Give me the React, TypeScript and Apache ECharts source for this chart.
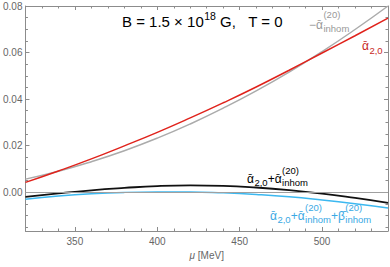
import React, { useEffect, useRef } from "react";
import * as echarts from "echarts";

// ---- data ----
const mu = [320, 340, 360, 380, 400, 420, 440, 460, 480, 500, 520, 540];
const alpha20 = [0.0042, 0.0091, 0.0143, 0.0199, 0.0257, 0.0319, 0.0384, 0.0452, 0.0524, 0.0598, 0.0672, 0.0748];
const negAlphaInhom = [0.0056, 0.009, 0.0131, 0.0178, 0.0232, 0.0293, 0.0361, 0.0435, 0.0516, 0.0604, 0.0699, 0.08];
const alphaPlusInhom = [-0.002, -0.0005, 0.0008, 0.0018, 0.0026, 0.0029, 0.0027, 0.002, 0.0009, -0.0006, -0.0025, -0.0046];
const alphaPlusInhomBeta = [-0.0031, -0.0017, -0.0007, -0.0001, 0.0001, 0.0001, -0.0003, -0.001, -0.002, -0.0034, -0.005, -0.0068];

const xMajorTicks = [350, 400, 450, 500];
const xMinorTicks = [330, 340, 360, 370, 380, 390, 410, 420, 430, 440, 460, 470, 480, 490, 510, 520, 530];
const yMajorTicks = [0, 0.02, 0.04, 0.06, 0.08];
const yMinorTicks = [-0.015, -0.01, -0.005, 0.005, 0.01, 0.015, 0.025, 0.03, 0.035, 0.045, 0.05, 0.055, 0.065, 0.07, 0.075];

const FONT = '"Liberation Sans", Arial, "DejaVu Sans", sans-serif';
const FRAME = "#8c8c8c";
const TICKLABEL = "#666";

type Tok = { t?: string; sub?: string; sup?: string };

let measureCtx: CanvasRenderingContext2D | null = null;
function textWidth(s: string, size: number): number {
  if (!measureCtx) measureCtx = document.createElement("canvas").getContext("2d");
  if (!measureCtx) return s.length * size * 0.55;
  measureCtx.font = `${size}px ${FONT}`;
  return measureCtx.measureText(s).width;
}

function txt(x: number, y: number, s: string, size: number, color: string) {
  return {
    type: "text",
    x,
    y,
    silent: true,
    style: {
      text: s,
      fill: color,
      font: `${size}px ${FONT}`,
      align: "left",
      verticalAlign: "middle",
      textAlign: "left",
      textVerticalAlign: "middle",
    },
  };
}

function buildLabel(
  x: number,
  y: number,
  toks: Tok[],
  color: string,
  main: number,
  script: number,
  supDy: number,
  subDy: number
) {
  const children: any[] = [];
  let cx = 0;
  for (const tk of toks) {
    if (tk.t !== undefined) {
      children.push(txt(cx, 0, tk.t, main, color));
      cx += textWidth(tk.t, main);
    } else {
      let ww = 0;
      if (tk.sup) {
        children.push(txt(cx + 0.5, supDy, tk.sup, script, color));
        ww = Math.max(ww, textWidth(tk.sup, script));
      }
      if (tk.sub) {
        children.push(txt(cx + 0.5, subDy, tk.sub, script, color));
        ww = Math.max(ww, textWidth(tk.sub, script));
      }
      cx += ww + 0.5;
    }
  }
  return { type: "group", x, y, silent: true, children };
}

const A = "ᾱ";
const B = "β\u0304";

export default function App() {
  const ref = useRef<HTMLDivElement>(null);
  useEffect(() => {
    if (!ref.current) return;
    const chart = echarts.init(ref.current, undefined, { renderer: "svg" });
    const toPairs = (ys: number[]) => mu.map((m, i) => [m, ys[i]]);
    const yMin = -0.0167;
    const yMax = 0.08;

    const xAxisBase = (position: string, ticks: number[], len: number, labels: boolean, line: boolean) => ({
      type: "value",
      min: 320,
      max: 540,
      position,
      gridIndex: 0,
      axisLine: { show: line, onZero: false, lineStyle: { color: FRAME, width: 1 } },
      axisTick: { show: true, inside: true, length: len, customValues: ticks, lineStyle: { color: FRAME, width: 1 } },
      axisLabel: labels
        ? { show: true, customValues: ticks, color: TICKLABEL, fontSize: 10, fontFamily: FONT, margin: 5 }
        : { show: false },
      splitLine: { show: false },
      minorTick: { show: false },
    });
    const yAxisBase = (position: string, ticks: number[], len: number, labels: boolean, line: boolean) => ({
      type: "value",
      min: yMin,
      max: yMax,
      position,
      gridIndex: 0,
      axisLine: { show: line, onZero: false, lineStyle: { color: FRAME, width: 1 } },
      axisTick: { show: true, inside: true, length: len, customValues: ticks, lineStyle: { color: FRAME, width: 1 } },
      axisLabel: labels
        ? {
            show: true,
            customValues: ticks,
            color: TICKLABEL,
            fontSize: 10,
            fontFamily: FONT,
            margin: 3,
            formatter: (v: number) => v.toFixed(2),
          }
        : { show: false },
      splitLine: { show: false },
      minorTick: { show: false },
    });

    const xMain: any = xAxisBase("bottom", xMajorTicks, 4, true, true);
    xMain.name = "{i|μ} [MeV]";
    xMain.nameLocation = "middle";
    xMain.nameGap = 17;
    xMain.nameTextStyle = {
      color: TICKLABEL,
      fontSize: 10,
      fontFamily: FONT,
      rich: { i: { fontStyle: "italic", fontSize: 10, color: TICKLABEL, fontFamily: FONT } },
    };

    const option: any = {
      animation: false,
      backgroundColor: "#fff",
      grid: { left: 24, right: 2, top: 6, bottom: 36, containLabel: false },
      xAxis: [
        xMain,
        xAxisBase("bottom", xMinorTicks, 2.5, false, false),
        xAxisBase("top", xMajorTicks, 4, false, true),
        xAxisBase("top", xMinorTicks, 2.5, false, false),
      ],
      yAxis: [
        yAxisBase("left", yMajorTicks, 4, true, true),
        yAxisBase("left", yMinorTicks, 2.5, false, false),
        yAxisBase("right", yMajorTicks, 4, false, true),
        yAxisBase("right", yMinorTicks, 2.5, false, false),
      ],
      series: [
        {
          type: "line",
          name: "-alpha inhom",
          xAxisIndex: 0,
          yAxisIndex: 0,
          data: toPairs(negAlphaInhom),
          smooth: true,
          showSymbol: false,
          lineStyle: { color: "#ababab", width: 1.5 },
          z: 2,
          markLine: {
            silent: true,
            symbol: "none",
            label: { show: false },
            lineStyle: { color: "#a0a0a0", width: 1, type: "solid" },
            data: [{ yAxis: 0 }],
          },
        },
        {
          type: "line",
          name: "alpha 2,0",
          xAxisIndex: 0,
          yAxisIndex: 0,
          data: toPairs(alpha20),
          smooth: true,
          showSymbol: false,
          lineStyle: { color: "#e0231c", width: 1.5 },
          z: 3,
        },
        {
          type: "line",
          name: "alpha + beta",
          xAxisIndex: 0,
          yAxisIndex: 0,
          data: toPairs(alphaPlusInhomBeta),
          smooth: true,
          showSymbol: false,
          lineStyle: { color: "#3cb8f0", width: 1.5 },
          z: 3,
        },
        {
          type: "line",
          name: "alpha + inhom",
          xAxisIndex: 0,
          yAxisIndex: 0,
          data: toPairs(alphaPlusInhom),
          smooth: true,
          showSymbol: false,
          lineStyle: { color: "#111", width: 1.8 },
          z: 4,
        },
      ],
      graphic: [
        buildLabel(122, 21.5, [{ t: "B = 1.5 × 10" }, { sup: "18" }, { t: " G,   T = 0" }], "#000", 15, 10.5, -6, 6),
        buildLabel(309, 25, [{ t: "−" + A }, { sup: "(20)", sub: "inhom" }], "#999", 12, 9.5, -11, 3),
        buildLabel(362, 46, [{ t: A }, { sub: "2,0" }], "#c8281e", 12, 9.5, 4, 4),
        buildLabel(
          247,
          179,
          [{ t: A }, { sub: "2,0" }, { t: "+" + A }, { sup: "(20)", sub: "inhom" }],
          "#000",
          12,
          9.5,
          -9,
          3
        ),
        buildLabel(
          270,
          216,
          [{ t: A }, { sub: "2,0" }, { t: "+" + A }, { sup: "(20)", sub: "inhom" }, { t: "+" + B }, { sup: "(20)", sub: "inhom" }],
          "#3aa9e4",
          12,
          9.5,
          -9,
          3
        ),
      ],
    };
    chart.setOption(option);
    return () => chart.dispose();
  }, []);
  return (
    <div
      ref={ref}
      style={{ width: 390, height: 267, position: "fixed", left: 0, top: 0, background: "#fff" }}
    />
  );
}
